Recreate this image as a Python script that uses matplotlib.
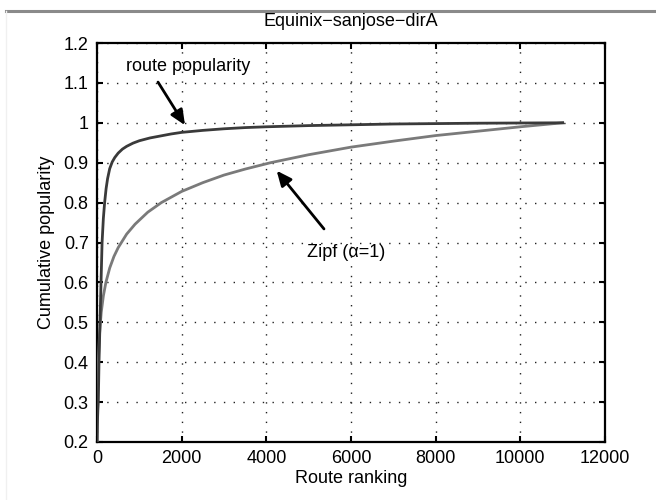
import matplotlib
matplotlib.use("Agg")
import matplotlib.pyplot as plt
from matplotlib.lines import Line2D

plt.rcParams["font.family"] = ["Liberation Sans", "DejaVu Sans"]

# ── data ─────────────────────────────────────────────────────────────────────
route_x = [0, 10, 20, 31, 47, 71, 95, 120, 150, 180, 215, 250, 300, 360, 420,
           500, 600, 700, 850, 1000, 1250, 1500, 1750, 2000, 2500, 3000, 3500,
           4000, 5000, 6000, 7000, 8000, 9000, 10000, 11000]
route_y = [0.20, 0.25, 0.28, 0.30, 0.40, 0.50, 0.60, 0.70, 0.76, 0.80, 0.835,
           0.86, 0.885, 0.902, 0.913, 0.924, 0.934, 0.941, 0.949, 0.955,
           0.962, 0.967, 0.972, 0.976, 0.981, 0.985, 0.988, 0.990, 0.993,
           0.995, 0.997, 0.998, 0.999, 0.9995, 1.0]

zipf_x = [1, 3, 10, 30, 60, 100, 150, 210, 300, 400, 500, 700, 900, 1200,
          1520, 2000, 2500, 3000, 3500, 4100, 5000, 6000, 7000, 8000, 9000,
          10000, 11000]
zipf_y = [0.10, 0.19, 0.30, 0.40, 0.47, 0.525, 0.566, 0.60, 0.636, 0.665,
          0.687, 0.721, 0.746, 0.776, 0.80, 0.828, 0.850, 0.869, 0.884,
          0.900, 0.920, 0.939, 0.954, 0.968, 0.979, 0.990, 1.0]

x_ticks = [0, 2000, 4000, 6000, 8000, 10000, 12000]
y_ticks = [0.2, 0.3, 0.4, 0.5, 0.6, 0.7, 0.8, 0.9, 1.0, 1.1, 1.2]
y_ticklabels = ["0.2", "0.3", "0.4", "0.5", "0.6", "0.7", "0.8", "0.9",
                "1", "1.1", "1.2"]

FS = 13

fig = plt.figure(figsize=(6.56, 5.0), dpi=100, facecolor="white")
ax = fig.add_axes([97 / 656, 1 - 442 / 500, 508 / 656, 399 / 500])

ax.plot(zipf_x, zipf_y, color="#7a7a7a", lw=2.0, zorder=3)
ax.plot(route_x, route_y, color="#3a3a3a", lw=2.0, zorder=4)

ax.set_xlim(0, 12000)
ax.set_ylim(0.2, 1.2)
ax.set_xticks(x_ticks)
ax.set_xticklabels([str(t) for t in x_ticks])
ax.set_yticks(y_ticks)
ax.set_yticklabels(y_ticklabels)

ax.grid(True, color="#222222", linestyle=(0, (1, 6)), lw=1.0)
ax.tick_params(direction="in", top=True, right=True, length=4, width=1.5,
               labelsize=FS, pad=6)
for sp in ax.spines.values():
    sp.set_linewidth(1.6)

ax.set_xlabel("Route ranking", fontsize=FS, labelpad=2)
ax.set_ylabel("Cumulative popularity", fontsize=FS, labelpad=6)
fig.text(351 / 656, 1 - 22 / 500, "Equinix\u2212sanjose\u2212dirA",
         ha="center", va="center", fontsize=FS)

# annotations
arrow = dict(arrowstyle="-|>,head_length=0.9,head_width=0.4",
             color="black", lw=2.0, shrinkA=0, shrinkB=0)
ax.annotate("", xy=(2079, 0.994), xytext=(1441, 1.102), arrowprops=arrow)
ax.text(2150, 1.14, "route popularity", ha="center", va="center",
        fontsize=FS)

ax.annotate("", xy=(4244, 0.88), xytext=(5362, 0.734), arrowprops=arrow)
ax.text(5882, 0.674, "Zipf (\u03b1=1)", ha="center", va="center",
        fontsize=FS)

# page border remnants
fig.add_artist(Line2D([6 / 656, 1], [1 - 11 / 500, 1 - 11 / 500],
                      color="#8a8a8a", lw=2.2, transform=fig.transFigure))
fig.add_artist(Line2D([6 / 656, 6 / 656], [0, 1 - 11 / 500],
                      color="#f0f0f0", lw=1.0, transform=fig.transFigure))

fig.savefig("out.png", dpi=100, facecolor="white")
